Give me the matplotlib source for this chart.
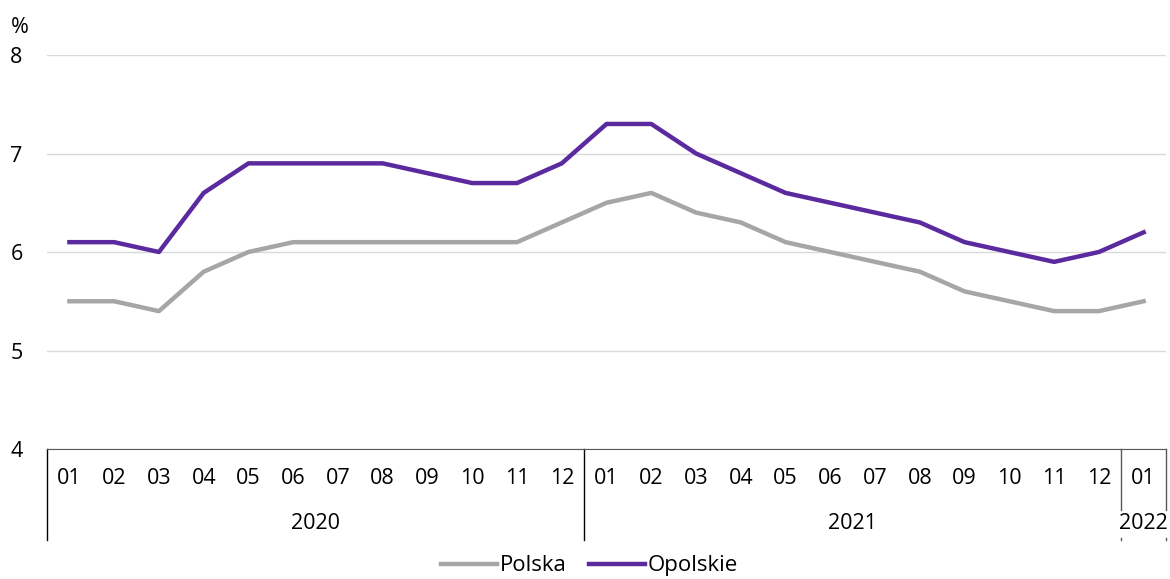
import numpy as np
import matplotlib
matplotlib.use("Agg")
import matplotlib.pyplot as plt
import matplotlib.transforms as mtransforms

plt.rcParams['font.family'] = ['Open Sans', 'DejaVu Sans']

# data
months = ["01", "02", "03", "04", "05", "06", "07", "08", "09", "10", "11", "12",
          "01", "02", "03", "04", "05", "06", "07", "08", "09", "10", "11", "12",
          "01"]
years = ["2020", "2021", "2022"]
year_spans = [(0, 11), (12, 23), (24, 24)]
polska = [5.5, 5.5, 5.4, 5.8, 6.0, 6.1, 6.1, 6.1, 6.1, 6.1, 6.1, 6.3,
          6.5, 6.6, 6.4, 6.3, 6.1, 6.0, 5.9, 5.8, 5.6, 5.5, 5.4, 5.4, 5.5]
opolskie = [6.1, 6.1, 6.0, 6.6, 6.9, 6.9, 6.9, 6.9, 6.8, 6.7, 6.7, 6.9,
            7.3, 7.3, 7.0, 6.8, 6.6, 6.5, 6.4, 6.3, 6.1, 6.0, 5.9, 6.0, 6.2]

fs = 15.5

fig = plt.figure(figsize=(11.7, 5.79), dpi=100)
ax = fig.add_axes([0.0402, 0.2245, 0.9564, 0.6805])

x = np.arange(len(months))
ax.plot(x, polska, color="#A6A6A6", lw=3.2, label="Polska")
ax.plot(x, opolskie, color="#5B2A9E", lw=3.2, label="Opolskie")

ax.set_xlim(-0.5, len(months) - 0.5)
ax.set_ylim(4, 8)
ax.set_yticks([4, 5, 6, 7, 8])
ax.grid(axis="y", color="#D9D9D9", lw=1)
ax.set_axisbelow(True)
for s in ["top", "right", "left"]:
    ax.spines[s].set_visible(False)
ax.spines["bottom"].set_color("#595959")
ax.tick_params(axis="y", length=0, labelsize=fs, pad=22)
ax.set_xticks([])
for lab in ax.get_yticklabels():
    lab.set_horizontalalignment("center")
ax.text(-0.024, 1.07, "%", transform=ax.transAxes, fontsize=fs, ha="center", va="center")

# two level category axis
trans = mtransforms.blended_transform_factory(ax.transData, ax.transAxes)
for i, m in enumerate(months):
    ax.text(i, -0.076, m, transform=trans, ha="center", va="center", fontsize=fs)
for (a, b), yr in zip(year_spans, years):
    ax.text((a + b) / 2, -0.19, yr, transform=trans, ha="center", va="center", fontsize=fs)

ax.plot([-0.5, -0.5], [0, -0.231], transform=trans, color="black", lw=1, clip_on=False)
ax.plot([11.5, 11.5], [0, -0.231], transform=trans, color="black", lw=1, clip_on=False)
for xs in [23.5, 24.5]:
    ax.plot([xs, xs], [0, -0.155], transform=trans, color="#595959", lw=1, clip_on=False)
    ax.plot([xs, xs], [-0.225, -0.231], transform=trans, color="#595959", lw=1, clip_on=False)

fig.legend(loc="center", bbox_to_anchor=(0.504, 0.0225), ncol=2, frameon=False,
           fontsize=16, handlelength=2.5, handletextpad=0.15, columnspacing=1.0)

fig.savefig("out.png", dpi=100)
